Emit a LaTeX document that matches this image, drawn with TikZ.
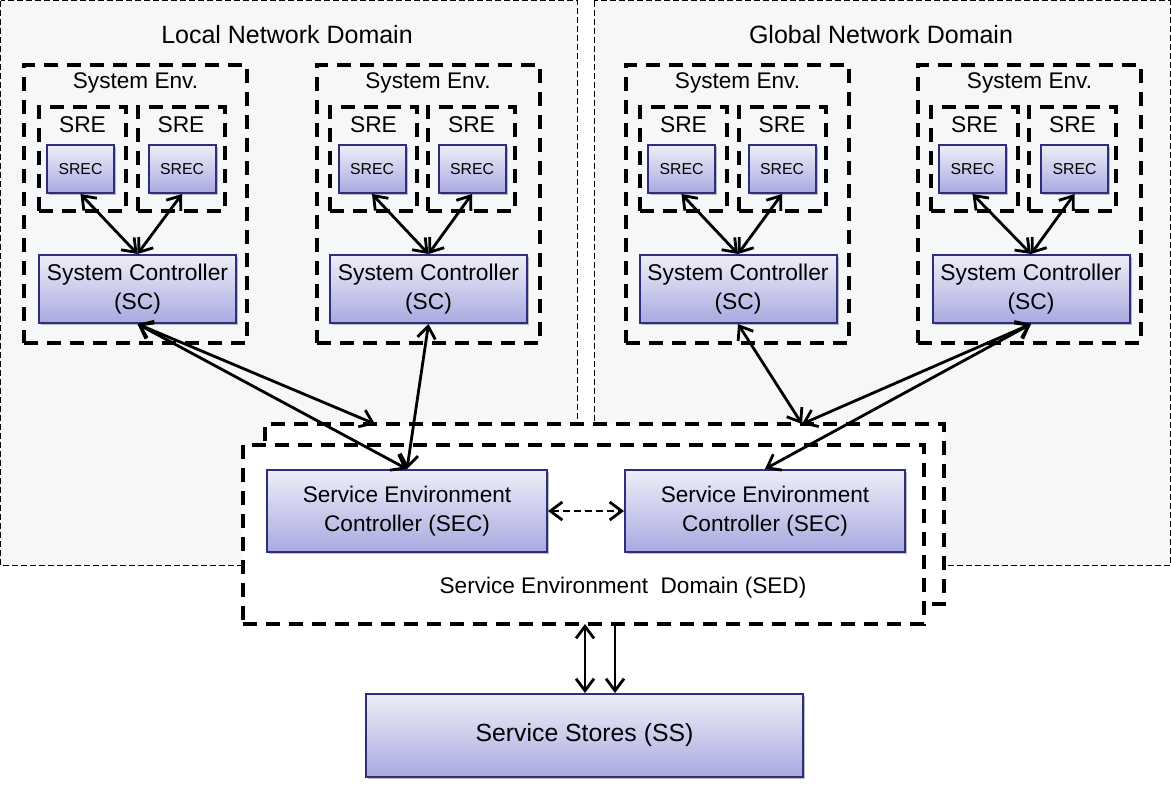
\documentclass[tikz,border=0pt]{standalone}
\usepackage{fontspec}
\setmainfont{Liberation Sans}
\usepackage{tikz}
\usetikzlibrary{arrows.meta}
\usetikzlibrary{shadows}

\definecolor{panelfill}{HTML}{F5F7F9}
\definecolor{ctrltop}{HTML}{EEEEF8}
\definecolor{ctrlbottom}{HTML}{A9A9E0}
\definecolor{ctrlline}{HTML}{2E2E7E}

\tikzset{
  ctrl/.style={draw=ctrlline, line width=1pt, top color=ctrltop, bottom color=ctrlbottom,
    align=center, inner sep=0pt,
    drop shadow={shadow xshift=1.2pt, shadow yshift=-1.2pt, opacity=0.25, fill=black}},
  heavydash/.style={draw, line width=2pt, dash pattern=on 7pt off 4.5pt, inner sep=0pt},
  panel/.style={draw, fill=panelfill, line width=0.5pt, dash pattern=on 3pt off 1.5pt},
  envbox/.style={heavydash, minimum width=111.5pt, minimum height=139pt,
    label={[anchor=base, yshift=-12.5pt, font=\fontsize{11.3}{13}\selectfont]north:System Env.}},
  srebox/.style={heavydash, minimum width=43.5pt, minimum height=52pt,
    label={[anchor=base, yshift=-13.5pt, font=\fontsize{11.4}{13}\selectfont]north:SRE}},
  srec/.style={ctrl, minimum width=33.5pt, minimum height=24pt, font=\fontsize{7.9}{9}\selectfont},
  sc/.style={ctrl, minimum width=98.5pt, minimum height=34pt, font=\fontsize{11.4}{14.5}\selectfont},
  sec/.style={ctrl, minimum width=140pt, minimum height=41pt, font=\fontsize{11.3}{14.5}\selectfont},
  store/.style={ctrl, minimum width=218.5pt, minimum height=41.5pt, font=\fontsize{12.4}{15}\selectfont},
  sedbox/.style={heavydash, fill=white},
  title/.style={anchor=base, font=\fontsize{12.5}{15}\selectfont},
  link/.style={line width=1.4pt, <->}
}

\begin{document}
\begin{tikzpicture}[x=0.5pt, y=-0.5pt, >={Straight Barb[length=6pt,width=9pt]}]
\useasboundingbox (0,0) rectangle (1171,788);

% network domains
\draw[panel] (0.5,0.5) rectangle (577,565);
\draw[panel] (594,0.5) rectangle (1170,565);
\node[title] (localT) at (287,43) {Local Network Domain};
\node[title] (globalT) at (881,43) {Global Network Domain};

% system environments
\node[envbox] (envA) at (135.5,204) {};
\node[envbox] (envB) at (428,204) {};
\node[envbox] (envC) at (737.5,204) {};
\node[envbox] (envD) at (1029.5,204) {};

\node[srebox] (sreA1) at (82.5,159) {};
\node[srebox] (sreA2) at (181,159) {};
\node[srebox] (sreB1) at (373.5,159) {};
\node[srebox] (sreB2) at (471.5,159) {};
\node[srebox] (sreC1) at (683.5,159) {};
\node[srebox] (sreC2) at (782,159) {};
\node[srebox] (sreD1) at (974.5,159) {};
\node[srebox] (sreD2) at (1072.5,159) {};

\node[srec] (srecA1) at (80.5,169) {SREC};
\node[srec] (srecA2) at (182,169) {SREC};
\node[srec] (srecB1) at (372,169) {SREC};
\node[srec] (srecB2) at (472,169) {SREC};
\node[srec] (srecC1) at (681.5,169) {SREC};
\node[srec] (srecC2) at (782,169) {SREC};
\node[srec] (srecD1) at (972.5,169) {SREC};
\node[srec] (srecD2) at (1074.5,169) {SREC};

\node[sc] (scA) at (137.5,289) {System Controller\\(SC)};
\node[sc] (scB) at (428.5,289) {System Controller\\(SC)};
\node[sc] (scC) at (738,289) {System Controller\\(SC)};
\node[sc] (scD) at (1031,289) {System Controller\\(SC)};

% service environment domain
\node[sedbox, minimum width=339.5pt, minimum height=90pt] (sedBack) at (604.5,514) {};
\node[sedbox, minimum width=340.5pt, minimum height=89.5pt] (sedFront) at (583.5,534.5) {};
\node[sec] (secL) at (407,511) {Service Environment\\Controller (SEC)};
\node[sec] (secR) at (765,511) {Service Environment\\Controller (SEC)};
\node[anchor=base, font=\fontsize{11.3}{13}\selectfont] (sedT) at (623,593) {Service Environment\ \ Domain (SED)};

\node[store] (ss) at (584.5,735.5) {Service Stores (SS)};

\coordinate (sedInL) at (375,424);
\coordinate (sedInR) at (802,424);
\coordinate (ssIn) at (585,624);
\coordinate (ssOut) at (615,624);

% links
\draw[link] (srecA1.south) -- (scA.north);
\draw[link] (srecA2.south) -- (scA.north);
\draw[link] (srecB1.south) -- (scB.north);
\draw[link] (srecB2.south) -- (scB.north);
\draw[link] (srecC1.south) -- (scC.north);
\draw[link] (srecC2.south) -- (scC.north);
\draw[link] (srecD1.south) -- (scD.north);
\draw[link] (srecD2.south) -- (scD.north);

\draw[link] (scA.south) -- (secL.north);
\draw[link] (scA.south) -- (sedInL);
\draw[link] (scB.south) -- (secL.north);
\draw[link] (scC.south) -- (sedInR);
\draw[link] (scD.south) -- (sedInR);
\draw[link] (scD.south) -- (secR.north);
\draw[link, dash pattern=on 3.5pt off 2pt] (secL.east) -- (secR.west);

\draw[link] (ssIn) -- (ssIn |- ss.north);
\draw[link, ->] (ssOut) -- (ssOut |- ss.north);
\end{tikzpicture}
\end{document}
